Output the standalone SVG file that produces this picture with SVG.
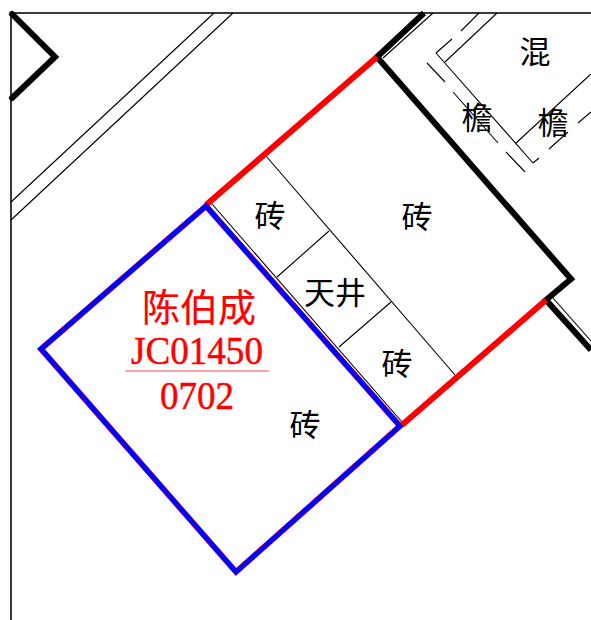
<svg xmlns="http://www.w3.org/2000/svg" width="591" height="620" viewBox="0 0 591 620">
<style>
.frame{fill:none;stroke:#3a3a3a;stroke-width:2}
.thin{fill:none;stroke:#000;stroke-width:1.1}
.thick{fill:none;stroke:#000;stroke-width:6;stroke-linejoin:miter}
.red{fill:none;stroke:#f00;stroke-width:6}
.blue{fill:none;stroke:#00f;stroke-width:5}
.under{fill:none;stroke:#f00;stroke-width:5.8}
.cjk{font-family:"Noto Sans CJK SC","Noto Sans",sans-serif;font-size:31px;fill:#000;text-anchor:middle}
.rc{font-family:"Noto Sans CJK SC","Noto Sans",sans-serif;font-size:38px;fill:#f00;stroke:#f00;stroke-width:.2;text-anchor:middle}
.rn{font-family:"Liberation Serif",serif;font-size:41px;fill:#f00;stroke:#f00;stroke-width:.5;text-anchor:middle}
</style>
<rect width="591" height="620" fill="#fff"/>
<g id="frame">
<path class="frame" d="M11 620V13H591"/>
</g>
<g id="connectors">
<path class="thick" stroke-linecap="round" d="M12 14L55 57L12 98"/>
<path class="thin" d="M11 202L214 13M11 220L233 13"/>
<path class="thin" d="M266 156L455 375M277 277L329 231M339 347L391 302M212 204L402 422"/>
<path class="thin" d="M553 298L591 341"/>
<path class="thin" d="M383 58L433 13M445 62L497 13M436 53L533 163M516 143L591 74"/>
<path class="thin" d="M436 53L452 39M461 31L479 13M533 163L539 158M549 149L568 132M578 123L591 112M427 63L445 82M453 92L498 143M506 152L525 172"/>
<path class="thick" d="M424 13L377 57L571 279L546 300L591 350"/>
<path class="red" d="M206 205L377 57M546 300L402 425"/>
<path class="under" d="M206 206L400 426L236 572L41 349Z"/>
<path class="blue" d="M206 206L400 426L236 572L41 349Z"/>
<path d="M125 371H269" stroke="#f00" stroke-width="1.2" fill="none" opacity=".7"/>
</g>
<g id="labels">
<text class="cjk" x="535" y="63">混</text>
<text class="cjk" x="477" y="129">檐</text>
<text class="cjk" x="553" y="134">檐</text>
<text class="cjk" x="270" y="227">砖</text>
<text class="cjk" x="417" y="228">砖</text>
<text class="cjk" x="335" y="304">天井</text>
<text class="cjk" x="397" y="375">砖</text>
<text class="cjk" x="305" y="436">砖</text>
<text class="rc" x="199" y="321">陈伯成</text>
<text class="rn" x="197" y="364" textLength="132" lengthAdjust="spacingAndGlyphs">JC01450</text>
<text class="rn" x="197" y="409" textLength="74" lengthAdjust="spacingAndGlyphs">0702</text>
</g>
</svg>
